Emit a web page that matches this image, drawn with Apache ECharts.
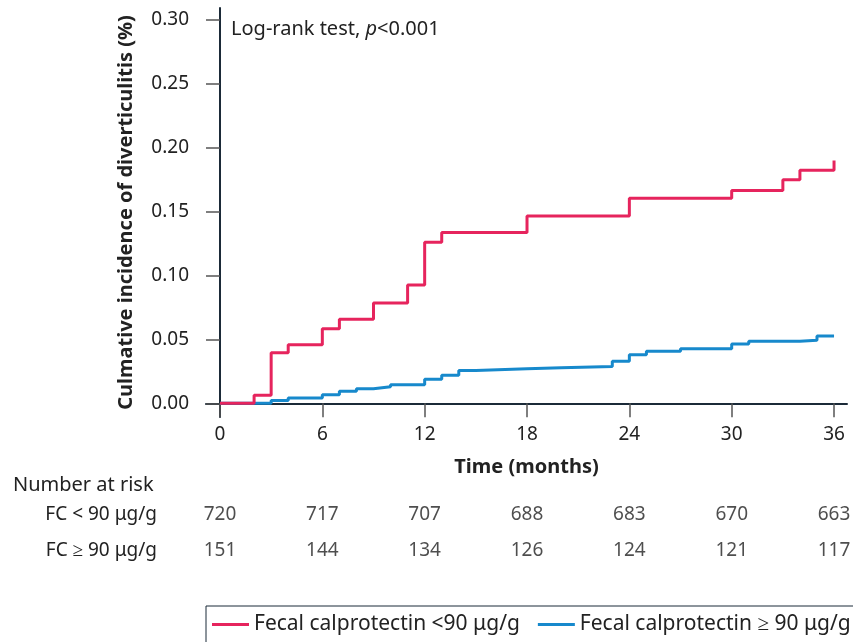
<!DOCTYPE html>
<html>
<head>
<meta charset="utf-8">
<script src="https://cdn.jsdelivr.net/npm/echarts@6/dist/echarts.min.js"></script>
<style>
  html, body { margin: 0; padding: 0; background: #fff; }
  #chart { width: 853px; height: 642px; }
</style>
</head>
<body>
<div id="chart"></div>
<script>
// step curves (time in months, cumulative incidence)
const lowTimes = [0, 2, 3, 4, 6, 7, 9, 11, 12, 13, 18, 24, 30, 33, 34, 36]
const lowValues = [0, 0.0063, 0.0396, 0.0459, 0.0584, 0.0658, 0.0786, 0.0927, 0.126, 0.1337, 0.1467, 0.1606, 0.1666, 0.1749, 0.1825, 0.190]
const highTimes = [0, 3, 4, 6, 7, 8, 9, 10, 12, 13, 14, 15, 18, 20, 23, 24, 25, 27, 30, 31, 34, 35, 36]
const highValues = [0, 0.0023, 0.0042, 0.0067, 0.0094, 0.0115, 0.013, 0.0146, 0.0188, 0.022, 0.0256, 0.0271, 0.0279, 0.0288, 0.0329, 0.0381, 0.0407, 0.0428, 0.0465, 0.0486, 0.0493, 0.0527, 0.0527]

// ticks
const xTicks = [0, 6, 12, 18, 24, 30, 36]
const yTicks = [0, 0.05, 0.10, 0.15, 0.20, 0.25, 0.30]

// number at risk table
const riskRows = ['FC < 90 μg/g', 'FC ≥ 90 μg/g']
const riskLow = [720, 717, 707, 688, 683, 670, 663]
const riskHigh = [151, 144, 134, 126, 124, 121, 117]

const seriesNames = ['Fecal calprotectin <90 μg/g', 'Fecal calprotectin ≥ 90 μg/g']

const FONT = 'Noto Sans'
const TXT = '#222'
const RED = '#e6245d'
const BLUE = '#1789cc'

const toPairs = (xs, ys) => xs.map((x, i) => [x, ys[i]])
const riskData = []
xTicks.forEach((t, i) => {
  riskData.push([t, 0, riskLow[i]])
  riskData.push([t, 1, riskHigh[i]])
})

const chart = echarts.init(document.getElementById('chart'))
chart.setOption({
  animation: false,
  textStyle: { fontFamily: FONT, color: TXT },
  title: [
    {
      text: '{a|Log-rank test, }{i|p}{a|<0.001}',
      left: 226,
      top: 14,
      textStyle: {
        fontWeight: 'normal',
        rich: {
          a: { fontFamily: FONT, fontSize: 20, color: TXT, fontWeight: 'normal' },
          i: { fontFamily: FONT, fontSize: 20, color: TXT, fontWeight: 'normal', fontStyle: 'italic' }
        }
      }
    },
    {
      text: 'Number at risk',
      left: 8,
      top: 470,
      textStyle: { fontFamily: FONT, fontSize: 20, fontWeight: 'normal', color: TXT }
    }
  ],
  legend: {
    data: seriesNames,
    left: 206,
    top: 606,
    width: 700,
    padding: [8, 30, 20, 6],
    icon: 'rect',
    itemWidth: 37,
    itemHeight: 3,
    itemGap: 18,
    borderColor: '#1b2a38',
    borderWidth: 1,
    textStyle: { fontFamily: FONT, fontSize: 21, color: TXT }
  },
  grid: [
    { left: 206, right: 6, top: 8, bottom: 225 },
    { left: 206, right: 6, top: 497, height: 72 }
  ],
  xAxis: [
    {
      type: 'value',
      gridIndex: 0,
      min: -0.82,
      max: 36.76,
      name: 'Time (months)',
      nameLocation: 'middle',
      nameGap: 40,
      nameTextStyle: { fontFamily: FONT, fontSize: 20, fontWeight: 'bold', color: TXT },
      splitLine: { show: false },
      axisLine: { lineStyle: { color: '#1b2a38', width: 2 } },
      axisTick: { customValues: xTicks, length: 14, lineStyle: { color: '#555', width: 1.5 } },
      axisLabel: { customValues: xTicks, fontFamily: FONT, fontSize: 19, color: TXT, margin: 8 }
    },
    {
      type: 'value',
      gridIndex: 1,
      min: -0.82,
      max: 36.76,
      show: false
    }
  ],
  yAxis: [
    {
      type: 'value',
      gridIndex: 0,
      min: -0.0107,
      max: 0.3094,
      name: 'Culmative incidence of diverticulitis (%)',
      nameLocation: 'middle',
      nameGap: 70,
      nameTextStyle: { fontFamily: FONT, fontSize: 20, fontWeight: 'bold', color: TXT },
      splitLine: { show: false },
      axisLine: { lineStyle: { color: '#1b2a38', width: 2 } },
      axisTick: { customValues: yTicks, length: 14, lineStyle: { color: '#555', width: 1.5 } },
      axisLabel: {
        customValues: yTicks,
        fontFamily: FONT, fontSize: 19, color: TXT, margin: 17,
        formatter: v => v.toFixed(2)
      }
    },
    {
      type: 'category',
      gridIndex: 1,
      data: riskRows,
      inverse: true,
      axisLine: { show: false },
      axisTick: { show: false },
      splitLine: { show: false },
      axisLabel: { fontFamily: FONT, fontSize: 19, color: TXT, margin: 49 }
    }
  ],
  series: [
    {
      name: seriesNames[1],
      type: 'line',
      step: 'end',
      symbol: 'none',
      data: toPairs(highTimes, highValues),
      lineStyle: { color: BLUE, width: 3 },
      itemStyle: { color: BLUE },
      z: 2
    },
    {
      name: seriesNames[0],
      type: 'line',
      step: 'end',
      symbol: 'none',
      data: toPairs(lowTimes, lowValues),
      lineStyle: { color: RED, width: 3 },
      itemStyle: { color: RED },
      z: 3
    },
    {
      type: 'scatter',
      xAxisIndex: 1,
      yAxisIndex: 1,
      symbolSize: 1,
      itemStyle: { color: 'rgba(0,0,0,0)' },
      label: {
        show: true,
        position: 'inside',
        fontFamily: FONT,
        fontSize: 19,
        color: TXT,
        formatter: p => p.value[2]
      },
      data: riskData
    }
  ]
})
</script>
</body>
</html>
